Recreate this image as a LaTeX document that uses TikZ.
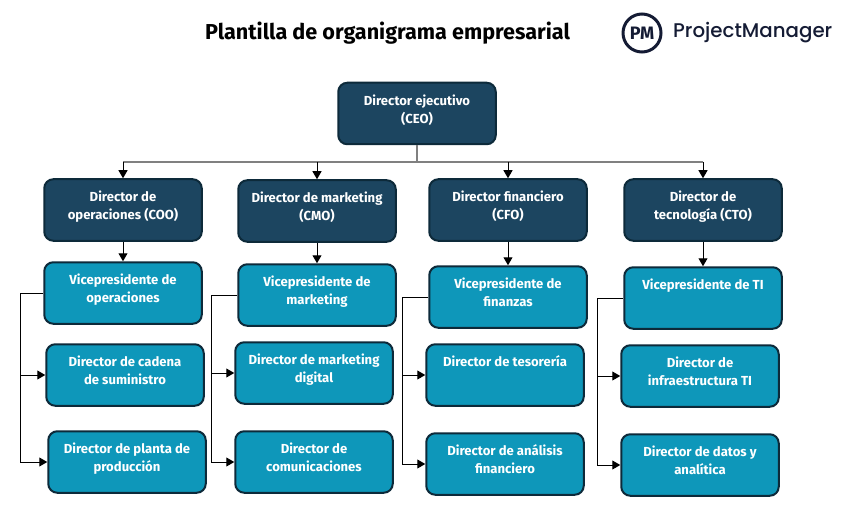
\documentclass[tikz,border=0pt]{standalone}
\usepackage{fontspec}
\setmainfont{Fira Sans}
\newfontfamily\logofont{Poppins Medium}
\usetikzlibrary{arrows.meta}
\definecolor{darkbox}{HTML}{1C4560}
\definecolor{tealbox}{HTML}{0E97BA}
\definecolor{edgebox}{HTML}{0D2A3A}
\definecolor{logoink}{HTML}{141B34}
\definecolor{busgray}{HTML}{808080}
\newcommand{\bt}[1]{\smash{\raisebox{0pt}{\begin{tabular}{@{}c@{}}#1\end{tabular}}}}
\tikzset{
  orgbox/.style={draw=edgebox,line width=2pt,rounded corners=9pt,minimum width=157.5pt,minimum height=61.5pt,inner sep=0pt,text=white,font=\fontsize{13.1}{18}\selectfont\bfseries},
  exec/.style={orgbox,fill=darkbox},
  staff/.style={orgbox,fill=tealbox},
  link/.style={black,line width=1pt},
  arrowlink/.style={link,-{Triangle[length=8pt,width=9pt]}}
}
\begin{document}
\begin{tikzpicture}[x=1pt,y=-1pt]
\useasboundingbox (0,0) rectangle (845,513);
\node[font=\fontsize{21.6}{24}\selectfont\bfseries,text=black] (title) at (387.5,33) {Plantilla de organigrama empresarial};
\node[draw=logoink,line width=3pt,circle,minimum size=38pt,inner sep=0pt,text=logoink,font=\fontsize{18}{18}\selectfont\bfseries] (logomark) at (642,33) {PM};
\node[anchor=west,inner sep=0pt,text=logoink,font=\logofont\fontsize{19.8}{22}\selectfont] (logotext) at (673,33) {ProjectManager};

\node[exec] (ceo) at (417,113.5) {\bt{Director ejecutivo\\(CEO)}};
\node[exec] (coo) at (123,210) {\bt{Director de\\operaciones (COO)}};
\node[exec] (cmo) at (317,211) {\bt{Director de marketing\\(CMO)}};
\node[exec] (cfo) at (508,210) {\bt{Director financiero\\(CFO)}};
\node[exec] (cto) at (703,210) {\bt{Director de\\tecnología (CTO)}};

\node[staff] (vp1) at (123,293) {\bt{Vicepresidente de\\operaciones}};
\node[staff] (vp2) at (317,295) {\bt{Vicepresidente de\\marketing}};
\node[staff] (vp3) at (508,297) {\bt{Vicepresidente de\\finanzas}};
\node[staff] (vp4) at (703,298) {\bt{Vicepresidente de TI\\\strut}};

\node[staff] (a1) at (125,375) {\bt{Director de cadena\\de suministro}};
\node[staff] (a2) at (314,373) {\bt{Director de marketing\\digital}};
\node[staff] (a3) at (505,375) {\bt{Director de tesorería\\\strut}};
\node[staff] (a4) at (700,376) {\bt{Director de\\infraestructura TI}};

\node[staff] (b1) at (127,462) {\bt{Director de planta de\\producción}};
\node[staff] (b2) at (314,462) {\bt{Director de\\comunicaciones}};
\node[staff] (b3) at (505,464) {\bt{Director de análisis\\financiero}};
\node[staff] (b4) at (700,465) {\bt{Director de datos y\\analítica}};

\coordinate (bus) at (417,162);
\draw[busgray,line width=1.2pt] (ceo.south) -- (bus);
\draw[busgray,line width=1.2pt] (coo.north |- bus) -- (cto.north |- bus);
\foreach \n in {coo,cmo,cfo,cto}{
  \draw[arrowlink] (\n.north |- bus) -- (\n.north);
}
\draw[arrowlink] (coo) -- (vp1);
\draw[arrowlink] (cmo) -- (vp2);
\draw[arrowlink] (cfo) -- (vp3);
\draw[arrowlink] (cto) -- (vp4);

\coordinate (t1) at (20.5,293);
\coordinate (t2) at (211.5,295);
\coordinate (t3) at (402.5,297);
\coordinate (t4) at (597.5,298);
\foreach \t/\v/\a/\b in {t1/vp1/a1/b1,t2/vp2/a2/b2,t3/vp3/a3/b3,t4/vp4/a4/b4}{
  \draw[link] (\v.west) -- (\t);
  \draw[arrowlink] (\t) |- (\b.west);
  \draw[arrowlink] (\t |- \a.west) -- (\a.west);
}
\end{tikzpicture}
\end{document}
